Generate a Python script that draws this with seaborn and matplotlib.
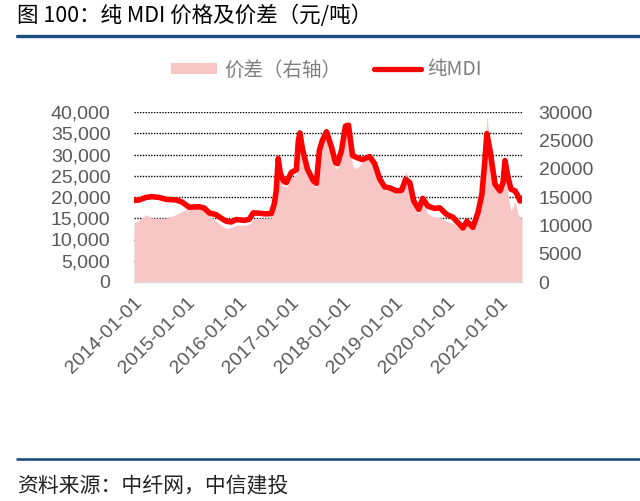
import pandas as pd
import seaborn as sns
import matplotlib.pyplot as plt
from matplotlib.patches import Patch
from matplotlib.lines import Line2D
from matplotlib.ticker import FixedLocator

# data (MDI on left axis, spread on right axis)
dates = ["2014-01-01", "2014-02-05", "2014-03-26", "2014-05-07", "2014-06-26", "2014-08-14",
         "2014-10-23", "2014-12-04", "2015-01-22", "2015-04-03", "2015-05-08", "2015-06-12",
         "2015-07-31", "2015-09-04", "2015-10-09", "2015-11-13", "2015-12-18", "2016-02-12",
         "2016-03-18", "2016-04-15", "2016-05-27", "2016-07-08", "2016-08-19", "2016-09-09",
         "2016-09-23", "2016-10-07", "2016-10-21", "2016-11-12", "2016-12-03", "2017-01-07",
         "2017-02-11", "2017-02-25", "2017-03-08", "2017-03-25", "2017-04-29", "2017-06-10",
         "2017-07-01", "2017-07-22", "2017-08-12", "2017-09-10", "2017-10-15", "2017-11-12",
         "2017-11-26", "2017-12-24", "2018-01-21", "2018-02-11", "2018-03-11", "2018-04-08",
         "2018-05-20", "2018-07-09", "2018-08-13", "2018-09-17", "2018-10-22", "2018-11-26",
         "2019-01-14", "2019-02-18", "2019-03-18", "2019-04-16", "2019-05-14", "2019-06-18",
         "2019-07-16", "2019-08-20", "2019-10-08", "2019-11-12", "2019-12-31", "2020-02-12",
         "2020-04-01", "2020-04-22", "2020-05-20", "2020-07-01", "2020-08-05", "2020-09-02",
         "2020-09-23", "2020-10-07", "2020-10-29", "2020-12-03", "2021-01-07", "2021-01-28",
         "2021-02-11", "2021-03-04", "2021-03-25", "2021-04-22", "2021-05-13", "2021-05-27",
         "2021-06-10"]

mdi_price = [19200, 19300, 19900, 20070, 19900, 19450, 19300, 18800, 17600, 17700, 17400, 16260,
             15830, 15000, 14300, 14120, 14700, 14500, 14760, 16260, 16190, 16030, 16100, 18330,
             21430, 29050, 25700, 23800, 23400, 25800, 26400, 33300, 35080, 31400, 26600, 23800,
             23200, 30950, 33300, 35350, 31750, 28100, 27860, 30950, 36700, 36900, 29760, 29300,
             28800, 29520, 27860, 24300, 22380, 22140, 21430, 21590, 24170, 23400, 19050, 17100,
             19680, 17860, 17300, 17460, 15870, 15240, 13490, 12700, 14290, 12860, 16270, 20630,
             28570, 34920, 30950, 23000, 21430, 23400, 28570, 24600, 21830, 21430, 20240, 19050,
             19700]

spread = [10400, 10900, 11900, 11250, 11250, 11250, 11900, 12500, 13000, 12950, 12700, 11800,
          10700, 10000, 9460, 9640, 10000, 10000, 10200, 11070, 11250, 11250, 11300, 13400,
          15200, 20200, 18200, 17000, 16800, 18400, 18900, 24100, 26800, 23200, 19300, 17100,
          16600, 22300, 24600, 26250, 23200, 20000, 20200, 22700, 27500, 27300, 20500, 20000,
          21100, 21800, 20400, 17500, 16250, 16070, 15500, 16070, 19600, 17300, 13400, 12100,
          14300, 12100, 11400, 11400, 10700, 10360, 9640, 9100, 10360, 9100, 11400, 16000,
          23200, 29460, 24100, 17860, 16070, 17000, 20000, 15200, 12500, 14300, 12100, 11250,
          11400]

left_ticks = [0, 5000, 10000, 15000, 20000, 25000, 30000, 35000, 40000]
right_ticks = [0, 5000, 10000, 15000, 20000, 25000, 30000]
x_ticks = ["2014-01-01", "2015-01-01", "2016-01-01", "2017-01-01",
           "2018-01-01", "2019-01-01", "2020-01-01", "2021-01-01"]

title = "图 100：纯 MDI 价格及价差（元/吨）"
source = "资料来源：中纤网，中信建投"
label_spread = "价差（右轴）"
label_mdi = "纯MDI"

df = pd.DataFrame({"date": pd.to_datetime(dates), "mdi": mdi_price, "spread": spread})

sns.set_style("white")
cjk = ["Noto Sans CJK SC", "DejaVu Sans"]
plt.rcParams["font.family"] = ["Liberation Sans", "Noto Sans CJK SC", "DejaVu Sans"]

fill_col = "#F9C6C6"
red = "#FF0000"
grey_txt = "#595959"
blue = "#1B4D7E"

fig = plt.figure(figsize=(6.4, 5.01), dpi=100)
ax = fig.add_axes([134 / 640, 1 - 282 / 501, (522 - 134) / 640, 170 / 501])
ax2 = ax.twinx()
ax.set_zorder(ax2.get_zorder() + 1)
ax.patch.set_visible(False)

# spread as area on the right axis
ax2.fill_between(df["date"], df["spread"], color=fill_col, lw=0, zorder=1)
ax2.set_ylim(0, right_ticks[-1])
ax2.set_yticks(right_ticks)
ax2.set_yticklabels([str(v) for v in right_ticks])
# dotted grid follows the left axis ticks, drawn under the area
ax2.yaxis.remove_overlapping_locs = False
ax2.yaxis.set_minor_locator(FixedLocator([v * right_ticks[-1] / left_ticks[-1] for v in left_ticks[1:]]))
ax2.grid(which="minor", axis="y", color="black", ls=(0, (1, 1)), lw=1.0)
ax2.grid(which="major", visible=False)
ax2.set_axisbelow(True)
ax2.tick_params(axis="y", which="both", length=0, labelsize=14, labelcolor=grey_txt, pad=12)

# MDI price line on the left axis
sns.lineplot(data=df, x="date", y="mdi", ax=ax, color=red, lw=4.0)
ax.set_ylim(0, left_ticks[-1])
ax.set_yticks(left_ticks)
ax.set_yticklabels([f"{v:,}" for v in left_ticks])
ax.tick_params(axis="y", length=0, labelsize=14, labelcolor=grey_txt, pad=17)
ax.set_xlim(df["date"].iloc[0], df["date"].iloc[-1])
ax.set_xticks(pd.to_datetime(x_ticks))
ax.set_xticklabels(x_ticks, rotation=45, ha="right", rotation_mode="anchor")
ax.tick_params(axis="x", length=6, color="#BFBFBF", labelsize=14, labelcolor=grey_txt, pad=3)
ax.set_xlabel("")
ax.set_ylabel("")
ax2.set_ylabel("")

for a in (ax, ax2):
    for s in ("top", "left", "right"):
        a.spines[s].set_visible(False)
ax2.spines["bottom"].set_visible(False)
ax.spines["bottom"].set_color("#D9D9D9")
ax.spines["bottom"].set_linewidth(1.0)

# legend
handles = [Patch(facecolor=fill_col, edgecolor="none", label=label_spread),
           Line2D([], [], color=red, lw=3.8, label=label_mdi)]
fig.legend(handles=handles, loc="center", bbox_to_anchor=(0.51, 1 - 70 / 501), ncol=2,
           frameon=False, prop={"family": cjk, "size": 14}, labelcolor="#7F7F7F",
           handlelength=2.4, handleheight=0.5, handletextpad=0.35, columnspacing=1.7)

# title, rules and source
fig.text(17 / 640, 1 - 16 / 501, title, fontsize=15.5, family=cjk, color="black", va="center")
fig.add_artist(Line2D([17 / 640, 1], [1 - 36 / 501] * 2, color=blue, lw=2.4))
fig.add_artist(Line2D([17 / 640, 1], [1 - 459 / 501] * 2, color=blue, lw=1.9))
fig.text(17 / 640, 1 - 486 / 501, source, fontsize=15, family=cjk, color="#222222", va="center")

fig.savefig("out.png", dpi=100)
